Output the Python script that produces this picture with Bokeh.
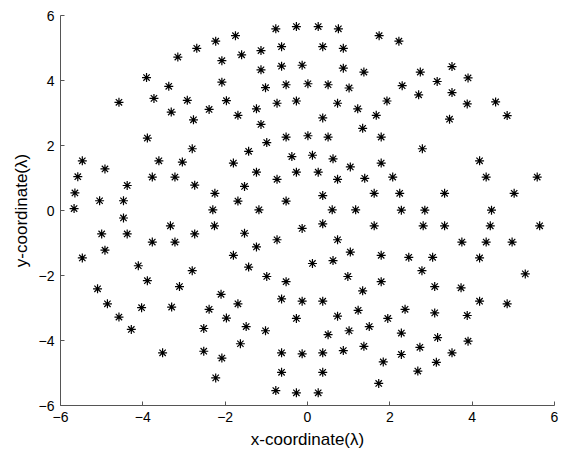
from bokeh.plotting import figure
from bokeh.models import Range1d, FixedTicker
from bokeh.embed import file_html
from bokeh.resources import INLINE

# Element positions (in wavelengths) of the planar array
x_coord = [
    # left block, upper half
    -2.23, -2.69, -3.15, -2.08, -3.91, -2.08, -3.37, -3.73, -4.58, -2.92, -1.97,
    -2.39, -3.31, -2.77, -3.89, -2.80, -5.47, -3.61, -3.04, -4.92, -5.58, -3.77,
    -3.22, -4.38, -2.74, -5.65, -2.25, -5.05, -4.47, -5.67, -2.30,
    # left block, lower half
    -4.47, -3.33, -2.26, -5.00, -4.38, -2.74, -3.77, -3.22, -4.92, -5.47, -4.11,
    -2.80, -3.89, -5.10, -3.11, -2.10, -4.86, -4.03, -3.30, -2.39, -1.97, -4.58,
    -4.28, -2.52, -3.52, -2.52, -2.08, -2.23,
    # centre block, upper half
    -1.75, -0.77, -0.27, 0.26, 0.75, 1.74, -1.60, -1.13, -0.63, 0.37, 0.87,
    -1.13, -0.63, -0.13, 0.87, 1.37, -1.02, -0.52, 0.01, 0.50, 1.01, 1.93,
    -1.24, -0.74, -0.27, 0.73, 1.22, -1.69, 1.67, -1.13, 0.37, 1.34, -0.99,
    -0.52, 0.01, 0.50, 1.79, -1.43, -0.38, 0.12, 0.62, 1.04, 1.79, -1.80,
    -1.24, -0.74, -0.27, 0.26, 0.73, 1.39, -1.53, 0.37, 1.62, -1.69, -0.52,
    -1.18, 0.60, 1.17,
    # centre block, lower half
    -0.13, 0.37, 1.62, -1.53, -0.74, 0.73, -1.24, -1.80, 1.04, 1.79, -1.43,
    0.12, 0.62, -0.99, -0.52, 0.98, 1.79, 1.34, -1.69, -0.63, -0.13, 0.37,
    1.23, -0.27, 0.73, -1.49, -1.02, 0.50, 1.01, 1.50, -1.63, 1.37, 0.87,
    -0.63, -0.13, 0.37, 1.84, -0.63, 0.37, 1.73, -0.77, -0.27, 0.26,
    # right block, upper half
    2.22, 2.74, 3.51, 3.15, 3.90, 2.30, 2.70, 3.51, 3.88, 4.57, 3.45, 4.85,
    2.79, 4.18, 2.07, 4.34, 5.58, 2.24, 3.33, 5.02, 2.28, 2.85, 4.47,
    # right block, lower half
    2.81, 3.33, 4.44, 5.64, 3.75, 4.34, 4.97, 2.46, 3.04, 4.18, 2.78, 5.29,
    3.09, 3.73, 4.18, 4.85, 2.37, 1.95, 3.09, 3.88, 2.28, 3.16, 3.90, 2.73,
    3.51, 2.28, 3.13, 2.68,
]

y_coord = [
    # left block, upper half
    5.21, 4.99, 4.72, 4.61, 4.09, 3.95, 3.82, 3.45, 3.33, 3.39, 3.38,
    3.11, 3.03, 2.79, 2.23, 1.90, 1.53, 1.53, 1.49, 1.28, 1.04, 1.03,
    1.03, 0.77, 0.78, 0.54, 0.53, 0.30, 0.30, 0.06, 0.02,
    # left block, lower half
    -0.23, -0.47, -0.47, -0.72, -0.72, -0.72, -0.97, -0.97, -1.22, -1.46, -1.70,
    -1.85, -2.16, -2.41, -2.34, -2.58, -2.87, -2.99, -2.97, -3.04, -3.31, -3.28,
    -3.66, -3.63, -4.38, -4.33, -4.54, -5.15,
    # centre block, upper half
    5.38, 5.59, 5.66, 5.66, 5.59, 5.38, 4.79, 4.92, 5.04, 5.04, 4.99,
    4.33, 4.44, 4.47, 4.38, 4.26, 3.78, 3.87, 3.90, 3.87, 3.77, 3.37,
    3.13, 3.30, 3.37, 3.30, 3.13, 2.93, 2.93, 2.65, 2.85, 2.53, 2.09,
    2.26, 2.30, 2.26, 2.26, 1.82, 1.66, 1.70, 1.59, 1.34, 1.46, 1.46,
    1.18, 0.96, 1.18, 1.18, 0.96, 0.99, 0.74, 0.46, 0.53, 0.29, 0.29,
    0.02, 0.02, 0.02,
    # centre block, lower half
    -0.55, -0.41, -0.47, -0.70, -0.90, -0.90, -1.12, -1.38, -1.28, -1.38, -1.74,
    -1.63, -1.54, -2.03, -2.19, -2.03, -2.19, -2.47, -2.87, -2.72, -2.79, -2.79,
    -3.07, -3.32, -3.25, -3.57, -3.70, -3.82, -3.70, -3.57, -4.10, -4.18, -4.31,
    -4.38, -4.41, -4.38, -4.66, -4.98, -4.98, -5.32, -5.54, -5.61, -5.61,
    # right block, upper half
    5.21, 4.26, 4.43, 3.97, 4.08, 3.84, 3.56, 3.63, 3.28, 3.34, 2.81, 2.92,
    1.90, 1.53, 1.03, 1.03, 1.03, 0.53, 0.53, 0.53, 0.01, 0.01, 0.01,
    # right block, lower half
    -0.47, -0.47, -0.47, -0.47, -0.97, -0.97, -0.97, -1.44, -1.44, -1.46, -1.85, -1.95,
    -2.34, -2.38, -2.79, -2.87, -3.04, -3.32, -3.15, -3.23, -3.77, -3.91, -4.02, -4.21,
    -4.38, -4.43, -4.67, -4.94,
]

tick_values = [-6, -4, -2, 0, 2, 4, 6]

FONT = "Liberation Sans"

p = figure(
    width=565, height=453,
    x_range=Range1d(-6, 6), y_range=Range1d(-6, 6),
    output_backend="svg", toolbar_location=None,
    min_border_left=60, min_border_right=11,
    min_border_top=15, min_border_bottom=48,
)
p.background_fill_color = "white"
p.border_fill_color = "white"
p.outline_line_color = None
p.xgrid.visible = False
p.ygrid.visible = False

p.scatter(x_coord, y_coord, marker="asterisk", size=9,
          line_color="black", line_width=1.2)

for ax in (p.xaxis, p.yaxis):
    ax.ticker = FixedTicker(ticks=tick_values)
    ax.minor_tick_line_color = None
    ax.major_tick_in = 4
    ax.major_tick_out = 0
    ax.axis_line_color = "#555555"
    ax.major_tick_line_color = "#555555"
    ax.major_label_text_font = FONT
    ax.major_label_text_font_size = "14px"
    ax.major_label_text_color = "black"
    ax.major_label_standoff = 6
    ax.axis_label_text_font = FONT
    ax.axis_label_text_font_size = "17px"
    ax.axis_label_text_font_style = "normal"
    ax.axis_label_text_color = "black"
    ax.axis_label_standoff = 5

p.xaxis.axis_label = "x-coordinate(λ)"
p.yaxis.axis_label = "y-coordinate(λ)"

open("out.html", "w").write(file_html(p, INLINE))
